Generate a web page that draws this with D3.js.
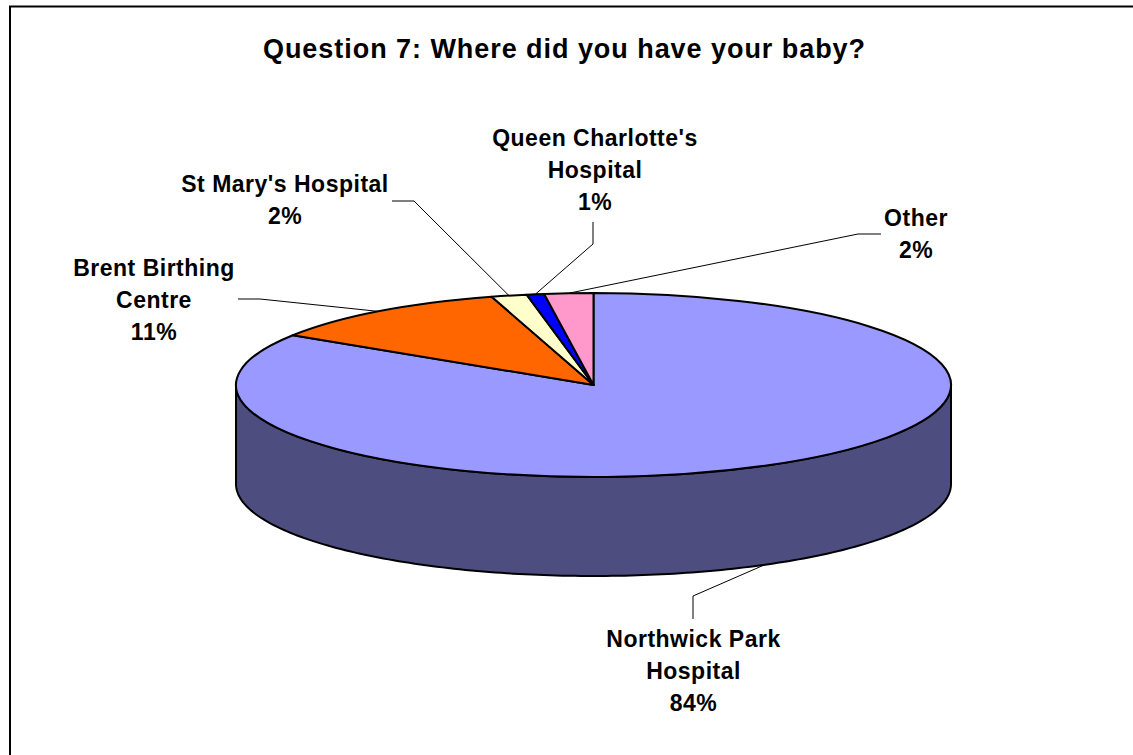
<!DOCTYPE html>
<html>
<head>
<meta charset="utf-8">
<script src="https://cdnjs.cloudflare.com/ajax/libs/d3/7.8.5/d3.min.js"></script>
<style>
  html, body { margin: 0; padding: 0; background: #fff; }
  svg { display: block; }
  text { font-family: "Liberation Sans", sans-serif; font-weight: bold; fill: #000; }
</style>
</head>
<body>
<script>
var title = "Question 7: Where did you have your baby?";

// Data (labels show the rounded figure)
var categories = ["Northwick Park Hospital", "Brent Birthing Centre", "St Mary's Hospital", "Queen Charlotte's Hospital", "Other"];
var values = [84.1, 11.3, 1.6, 0.8, 2.2];
var labelLines = [
  ["Northwick Park", "Hospital"],
  ["Brent Birthing", "Centre"],
  ["St Mary's Hospital"],
  ["Queen Charlotte's", "Hospital"],
  ["Other"]
];
var colors = ["#9999ff", "#ff6600", "#ffffcc", "#0000ff", "#ff99cc"];
var wallColor = "#4d4d80";

var width = 1133, height = 755;
var cx = 593.5, cy = 385, rx = 357.5, ry = 92, depth = 99;

// label centre x, first baseline y, leader elbow and end
var labelLayout = [
  {x: 693.5, y: 647, elbow: [693, 596], end: [693, 619]},
  {x: 154, y: 276, elbow: [260, 299], end: [238, 299]},
  {x: 285, y: 192, elbow: [414, 201], end: [392, 201]},
  {x: 595, y: 146, elbow: [593, 244], end: [593, 222]},
  {x: 916, y: 226, elbow: [858, 234], end: [881, 234]}
];

var svg = d3.select("body")
    .append("svg")
    .attr("width", width)
    .attr("height", height);

svg.append("rect")
    .attr("width", width)
    .attr("height", height)
    .attr("fill", "#fff");

// Chart border, only the top and left edges fall inside the picture
svg.append("path")
    .attr("d", d3.line()([[10, height], [10, 6.5], [width, 6.5]]))
    .attr("fill", "none")
    .attr("stroke", "#000")
    .attr("stroke-width", 2);

svg.append("text")
    .attr("x", 564.5)
    .attr("y", 58)
    .attr("text-anchor", "middle")
    .style("font-size", "27px")
    .style("letter-spacing", "0.95px")
    .text(title);

var pie = d3.pie().sort(null).value(function(d) { return d; });
var arcs = pie(values);

// Angle is clockwise from 12 o'clock, same as d3.pie
function px(a) { return cx + rx * Math.sin(a); }
function py(a) { return cy - ry * Math.cos(a); }

// Side wall, front half of the ellipse pushed down by depth
var wallAngles = d3.range(90, 270.5, 1).map(function(d) { return d * Math.PI / 180; });
var wall = d3.area()
    .x(function(a) { return px(a); })
    .y0(function(a) { return py(a); })
    .y1(function(a) { return py(a) + depth; });

svg.append("path")
    .attr("d", wall(wallAngles))
    .attr("fill", wallColor)
    .attr("stroke", "#000")
    .attr("stroke-width", 2);

// Top of the pie, a circular arc squashed to the ellipse
var arc = d3.arc().innerRadius(0).outerRadius(1);

svg.append("g")
    .attr("transform", "translate(" + cx + "," + cy + ") scale(" + rx + "," + ry + ")")
  .selectAll("path")
    .data(arcs)
    .enter().append("path")
      .attr("d", arc)
      .attr("fill", function(d, i) { return colors[i]; })
      .attr("stroke", "#000")
      .attr("stroke-width", 2)
      .attr("vector-effect", "non-scaling-stroke")
      .attr("stroke-linejoin", "round");

// Leader lines start at the rim, at each slice's middle angle
var leader = d3.line();
svg.selectAll(".leader")
    .data(arcs)
    .enter().append("path")
      .attr("class", "leader")
      .attr("fill", "none")
      .attr("stroke", "#000")
      .attr("stroke-width", 1)
      .attr("d", function(d, i) {
        var mid = (d.startAngle + d.endAngle) / 2;
        var front = Math.cos(mid) < 0;
        var rim = [px(mid), py(mid) + (front ? depth : 0)];
        return leader([rim, labelLayout[i].elbow, labelLayout[i].end]);
      });

var total = d3.sum(values);

// Labels: name lines then the rounded percentage
var labels = svg.selectAll(".label")
    .data(arcs)
    .enter().append("text")
      .attr("class", "label")
      .attr("text-anchor", "middle")
      .style("font-size", "23px")
      .style("letter-spacing", "0.5px")
      .attr("y", function(d, i) { return labelLayout[i].y; });

labels.selectAll("tspan")
    .data(function(d, i) {
      return labelLines[i].concat([d3.format(".0f")(d.value / total * 100) + "%"])
        .map(function(t) { return {text: t, x: labelLayout[i].x}; });
    })
    .enter().append("tspan")
      .attr("x", function(d) { return d.x; })
      .attr("dy", function(d, i) { return i ? 32 : 0; })
      .text(function(d) { return d.text; });
</script>
</body>
</html>
